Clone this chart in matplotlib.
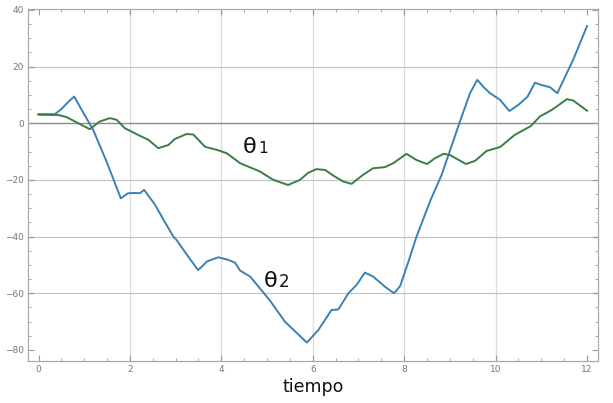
import matplotlib
matplotlib.use("Agg")
import matplotlib.pyplot as plt
from matplotlib.ticker import MultipleLocator

# theta2 (blue)
t2 = [0, 0.36, 0.5, 0.65, 0.78, 0.9, 1.2, 1.5, 1.8, 1.96, 2.1, 2.22, 2.31, 2.4,
      2.55, 2.75, 2.95, 3.02, 3.25, 3.49, 3.58, 3.68, 3.93, 4.15, 4.3, 4.41, 4.63,
      4.84, 5.06, 5.39, 5.65, 5.87, 6.12, 6.41, 6.56, 6.78, 6.96, 7.14, 7.32, 7.58,
      7.78, 7.91, 8.1, 8.27, 8.58, 8.82, 9.22, 9.44, 9.6, 9.75, 9.88, 10.1, 10.3,
      10.5, 10.7, 10.86, 11.0, 11.19, 11.35, 11.7, 12.0]
v2 = [3.2, 3.2, 5, 7.5, 9.4, 6, -2.5, -14, -26.5, -24.7, -24.6, -24.7, -23.5, -25.5,
      -28.8, -34.5, -40, -41.2, -46.5, -51.8, -50.5, -48.8, -47.3, -48.2, -49.2, -52, -54.1,
      -58.2, -62.5, -70, -74, -77.4, -73, -65.9, -65.7, -60, -57, -52.7, -54.1, -57.7,
      -60, -57.5, -48.5, -40, -27, -18.2, 0.6, 10.6, 15.3, 12.5, 10.6, 8.2, 4.3,
      6.5, 9.4, 14.3, 13.5, 12.7, 10.6, 22.5, 34.3]

# theta1 (green)
t1 = [0, 0.43, 0.61, 0.87, 1.12, 1.34, 1.56, 1.71, 1.89, 2.04, 2.2, 2.4, 2.62, 2.84,
      2.98, 3.24, 3.39, 3.64, 3.9, 4.12, 4.41, 4.84, 5.14, 5.46, 5.72, 5.9, 6.08, 6.27,
      6.45, 6.67, 6.85, 7.1, 7.32, 7.58, 7.76, 8.05, 8.27, 8.5, 8.67, 8.86, 9.0, 9.35,
      9.55, 9.8, 10.1, 10.42, 10.77, 10.97, 11.23, 11.56, 11.7, 12.0]
v1 = [3, 2.9, 2.2, 0, -2.1, 0.6, 1.8, 1.2, -1.8, -3, -4.3, -5.8, -8.8, -7.7,
      -5.6, -3.8, -4, -8.3, -9.4, -10.6, -14.1, -17, -20, -21.8, -20, -17.5, -16.2, -16.5,
      -18.5, -20.6, -21.4, -18.2, -15.9, -15.5, -14.1, -10.8, -13, -14.4, -12.4, -10.8, -11.2, -14.4,
      -13.3, -9.8, -8.4, -4.1, -1.0, 2.4, 4.7, 8.5, 8, 4.4]

xticks = [0, 2, 4, 6, 8, 10, 12]
yticks = [-80, -60, -40, -20, 0, 20, 40]
xgrid = [2, 4, 6, 8, 10]
ygrid = [20, -20, -40, -60]

fig = plt.figure(figsize=(6.13, 4.03), dpi=100)
ax = fig.add_axes([28/613, 42/403, 570/613, 352/403])
ax.set_xlim(-0.23, 12.24)
ax.set_ylim(-83.9, 40.3)

for x in xgrid:
    ax.axvline(x, color='#dcdcdc', lw=0.9, zorder=0)
for y in ygrid:
    ax.axhline(y, color='#c4c4c4', lw=0.9, zorder=0)
ax.axhline(0, color='#8a8a8a', lw=1.0, zorder=1)

ax.plot(t2, v2, color='#3a82b5', lw=1.4, zorder=3, solid_joinstyle='round')
ax.plot(t1, v1, color='#3b7d45', lw=1.4, zorder=3, solid_joinstyle='round')

ax.set_xticks(xticks)
ax.set_yticks(yticks)
ax.set_yticklabels(['\u221280', '\u221260', '\u221240', '\u221220', '0', '20', '40'])
ax.xaxis.set_minor_locator(MultipleLocator(0.5))
ax.yaxis.set_minor_locator(MultipleLocator(5))
ax.tick_params(which='both', direction='in', top=True, right=True,
               color='#999999', labelcolor='#777777', labelsize=6.5)
ax.tick_params(which='major', length=4, width=0.8, pad=3)
ax.tick_params(which='minor', length=2, width=0.6)
for s in ax.spines.values():
    s.set_color('#aaaaaa')
    s.set_linewidth(0.9)

ax.set_xlabel('tiempo', fontsize=12.5, color='#111111', labelpad=3)

ax.annotate('\u03b8', xy=(4.47, -10.6), va='baseline', ha='left', fontsize=16, color='#111111')
ax.annotate('1', xy=(4.47, -10.6), xytext=(11.0, 0), textcoords='offset points',
            va='baseline', ha='left', fontsize=11, color='#111111')
ax.annotate('\u03b8', xy=(4.93, -57.7), va='baseline', ha='left', fontsize=16, color='#111111')
ax.annotate('2', xy=(4.93, -57.7), xytext=(10.5, 0), textcoords='offset points',
            va='baseline', ha='left', fontsize=12, color='#111111')

fig.savefig('out.png', dpi=100)
